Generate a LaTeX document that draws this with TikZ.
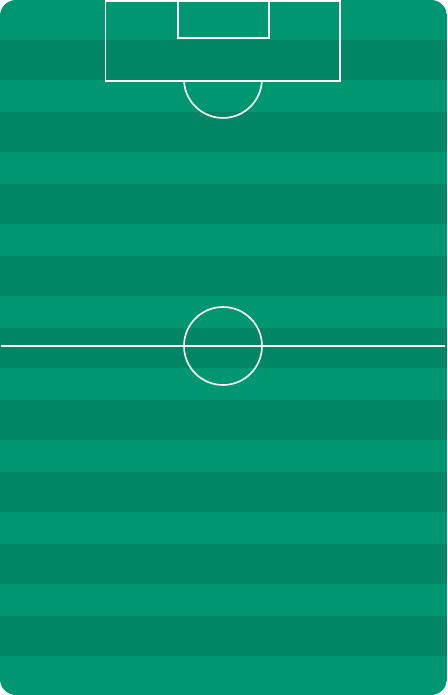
\documentclass[tikz,border=0pt]{standalone}
\usepackage{tikz}
\definecolor{TurfLight}{RGB}{0,150,114}
\definecolor{TurfDark}{RGB}{0,134,100}
\tikzset{
	pitchline/.style={draw=white,line width=1.6pt},
	band/.style={fill=TurfDark},
}

\begin{document}
\begin{tikzpicture}[x=1pt,y=-1pt]
	\useasboundingbox (0,0) rectangle (447,695);
	\begin{scope}
		\clip[rounded corners=16pt] (0,0) rectangle (447,695);
		\fill[TurfLight] (0,0) rectangle (447,695);
		% darker mowing bands
		\foreach \k in {0,...,8}
			\fill[band] (0,40+72*\k) rectangle (447,80+72*\k);
	\end{scope}
	% penalty area, goal area and arc
	\draw[pitchline] (105.5,1) rectangle (340,81);
	\draw[pitchline] (178,1) rectangle (269,38);
	\draw[pitchline] (184,81) arc[start angle=177,end angle=3,radius=39];
	% halfway line and centre circle
	\coordinate (west) at (1,346);
	\coordinate (east) at (445,346);
	\coordinate (spot) at (223,346);
	\draw[pitchline] (west) -- (east);
	\draw[pitchline] (spot) circle[radius=39];
\end{tikzpicture}
\end{document}
